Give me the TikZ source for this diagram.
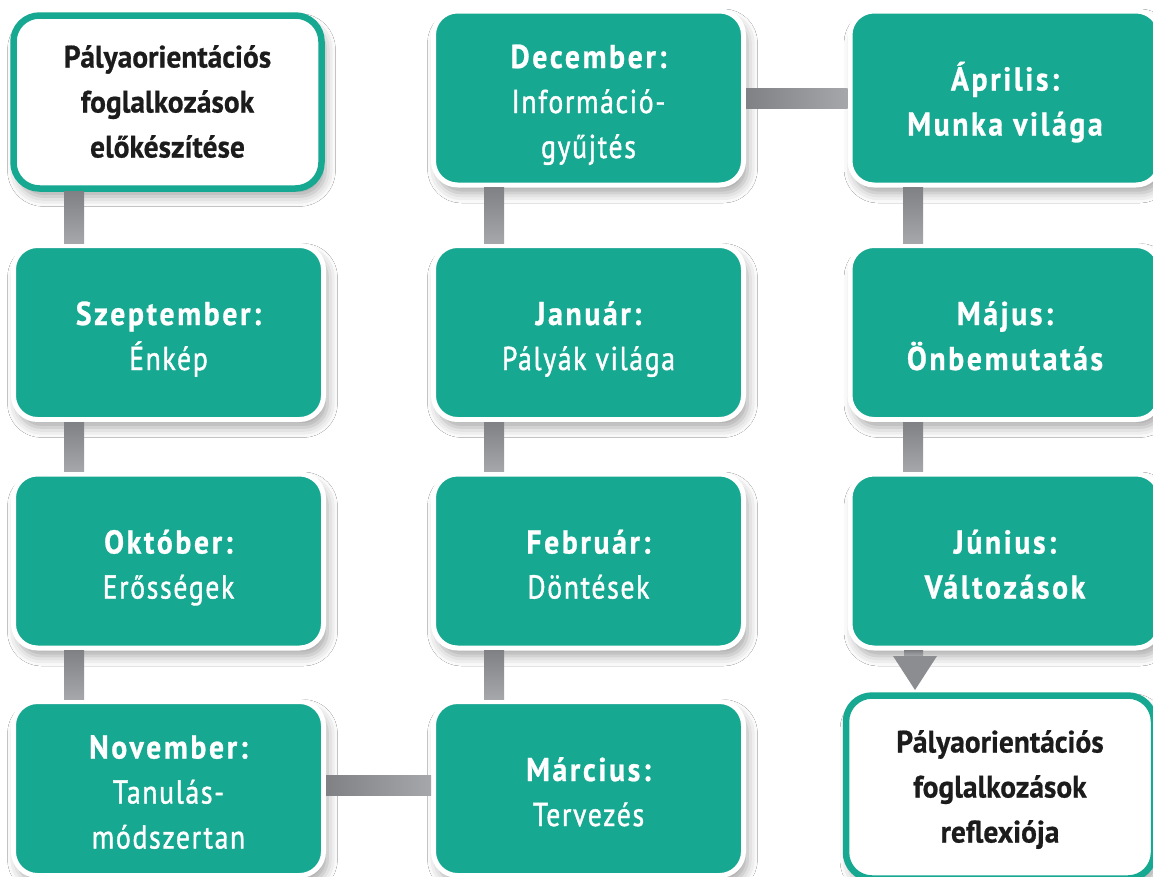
\documentclass[tikz,border=0pt]{standalone}
\usepackage{fontspec}
\newfontfamily\headfont[FakeStretch=0.9, LetterSpace=8, FakeBold=0.8]{PT Sans}
\newfontfamily\subfont[FakeStretch=0.84, LetterSpace=5, FakeBold=1.2]{PT Sans}
\newfontfamily\darkfont[FakeStretch=0.95, FakeBold=0.6]{PT Sans}
\usetikzlibrary{shadows.blur,calc}
\definecolor{teal1}{RGB}{23,168,146}
\definecolor{bardark}{RGB}{128,129,133}
\definecolor{barlight}{RGB}{166,167,171}
\definecolor{darktext}{RGB}{28,28,28}
\newcommand{\myhd}[1]{{\headfont\bfseries #1}}
\newcommand{\mysub}[1]{{\subfont #1}}
\tikzset{
  shad/.style={blur shadow={shadow xshift=4pt, shadow yshift=-8pt, shadow blur radius=10pt, shadow opacity=35}},
  mbox/.style={shad, draw=white, line width=5pt, fill=teal1, rounded corners=24pt,
    minimum width=310pt, minimum height=174pt, inner sep=0pt, text=white, align=center,
    font=\fontsize{33}{45}\selectfont, text height=75pt, text depth=0pt},
  mboxiii/.style={mbox, text height=120pt},
  wbox/.style={shad, draw=teal1, line width=6.5pt, fill=white, rounded corners=26pt,
    minimum width=308pt, inner sep=0pt, text=darktext, align=center,
    font=\darkfont\bfseries\fontsize{31}{45}\selectfont, text height=111pt, text depth=0pt},
  vbar/.style={top color=bardark, bottom color=barlight},
  hbar/.style={left color=bardark, right color=barlight},
}
\begin{document}
\begin{tikzpicture}[x=1pt,y=-1pt]
\useasboundingbox (0,0) rectangle (1153,876);
\clip (0,0) rectangle (1153,876);
\fill[white] (0,0) rectangle (1153,876);
\coordinate (c1) at (74,0);
\coordinate (c2) at (494,0);
\coordinate (c3) at (913,0);
% column 1
\node[wbox, minimum height=173pt] (pre) at (167.5,102) {Pályaorientációs\\foglalkozások\\előkészítése};
\node[mbox] (sep) at (168.5,332.5) {\myhd{Szeptember:}\\\mysub{Énkép}};
\node[mbox] (okt) at (168.5,561) {\myhd{Október:}\\\mysub{Erősségek}};
\node[mboxiii] (nov) at (168.5,788.5) {\myhd{November:}\\\mysub{Tanulás-}\\\mysub{módszertan}};
% column 2
\node[mboxiii] (dec) at (588.5,98) {\myhd{December:}\\\mysub{Információ-}\\\mysub{gyűjtés}};
\node[mbox] (jan) at (588.5,332.5) {\myhd{Január:}\\\mysub{Pályák világa}};
\node[mbox] (feb) at (588.5,561) {\myhd{Február:}\\\mysub{Döntések}};
\node[mbox] (mar) at (588.5,788.5) {\myhd{Március:}\\\mysub{Tervezés}};
% column 3
\node[mbox] (apr) at (1005,98) {\myhd{Április:}\\\myhd{Munka világa}};
\node[mbox] (maj) at (1005,332.5) {\myhd{Május:}\\\myhd{Önbemutatás}};
\node[mbox] (jun) at (1005,561) {\myhd{Június:}\\\myhd{Változások}};
\node[wbox, minimum height=183pt] (ref) at (1000,787) {Pályaorientációs\\foglalkozások\\reflexiója};
% vertical connectors
\shade[vbar] ($(pre.south -| c1)+(-10,0)$) rectangle ($(sep.north -| c1)+(10,0)$);
\shade[vbar] ($(sep.south -| c1)+(-10,0)$) rectangle ($(okt.north -| c1)+(10,0)$);
\shade[vbar] ($(okt.south -| c1)+(-10,0)$) rectangle ($(nov.north -| c1)+(10,0)$);
\shade[vbar] ($(dec.south -| c2)+(-10,0)$) rectangle ($(jan.north -| c2)+(10,0)$);
\shade[vbar] ($(jan.south -| c2)+(-10,0)$) rectangle ($(feb.north -| c2)+(10,0)$);
\shade[vbar] ($(feb.south -| c2)+(-10,0)$) rectangle ($(mar.north -| c2)+(10,0)$);
\shade[vbar] ($(apr.south -| c3)+(-10,0)$) rectangle ($(maj.north -| c3)+(10,0)$);
\shade[vbar] ($(maj.south -| c3)+(-10,0)$) rectangle ($(jun.north -| c3)+(10,0)$);
% horizontal connectors
\shade[hbar] ($(nov.east)+(0,-13.5)$) rectangle ($(mar.west)+(0,6.5)$);
\shade[hbar] ($(dec.east)+(0,-10)$) rectangle ($(apr.west)+(0,10)$);
% arrow to reflection
\coordinate (atip) at (915,690);
\shade[vbar] ($(jun.south -| c3)+(-9,0)$) rectangle ($(atip)+(8,-34)$);
\fill[bardark!70!barlight] ($(atip)+(-22,-34)$) -- ($(atip)+(22,-34)$) -- (atip) -- cycle;
\end{tikzpicture}
\end{document}
